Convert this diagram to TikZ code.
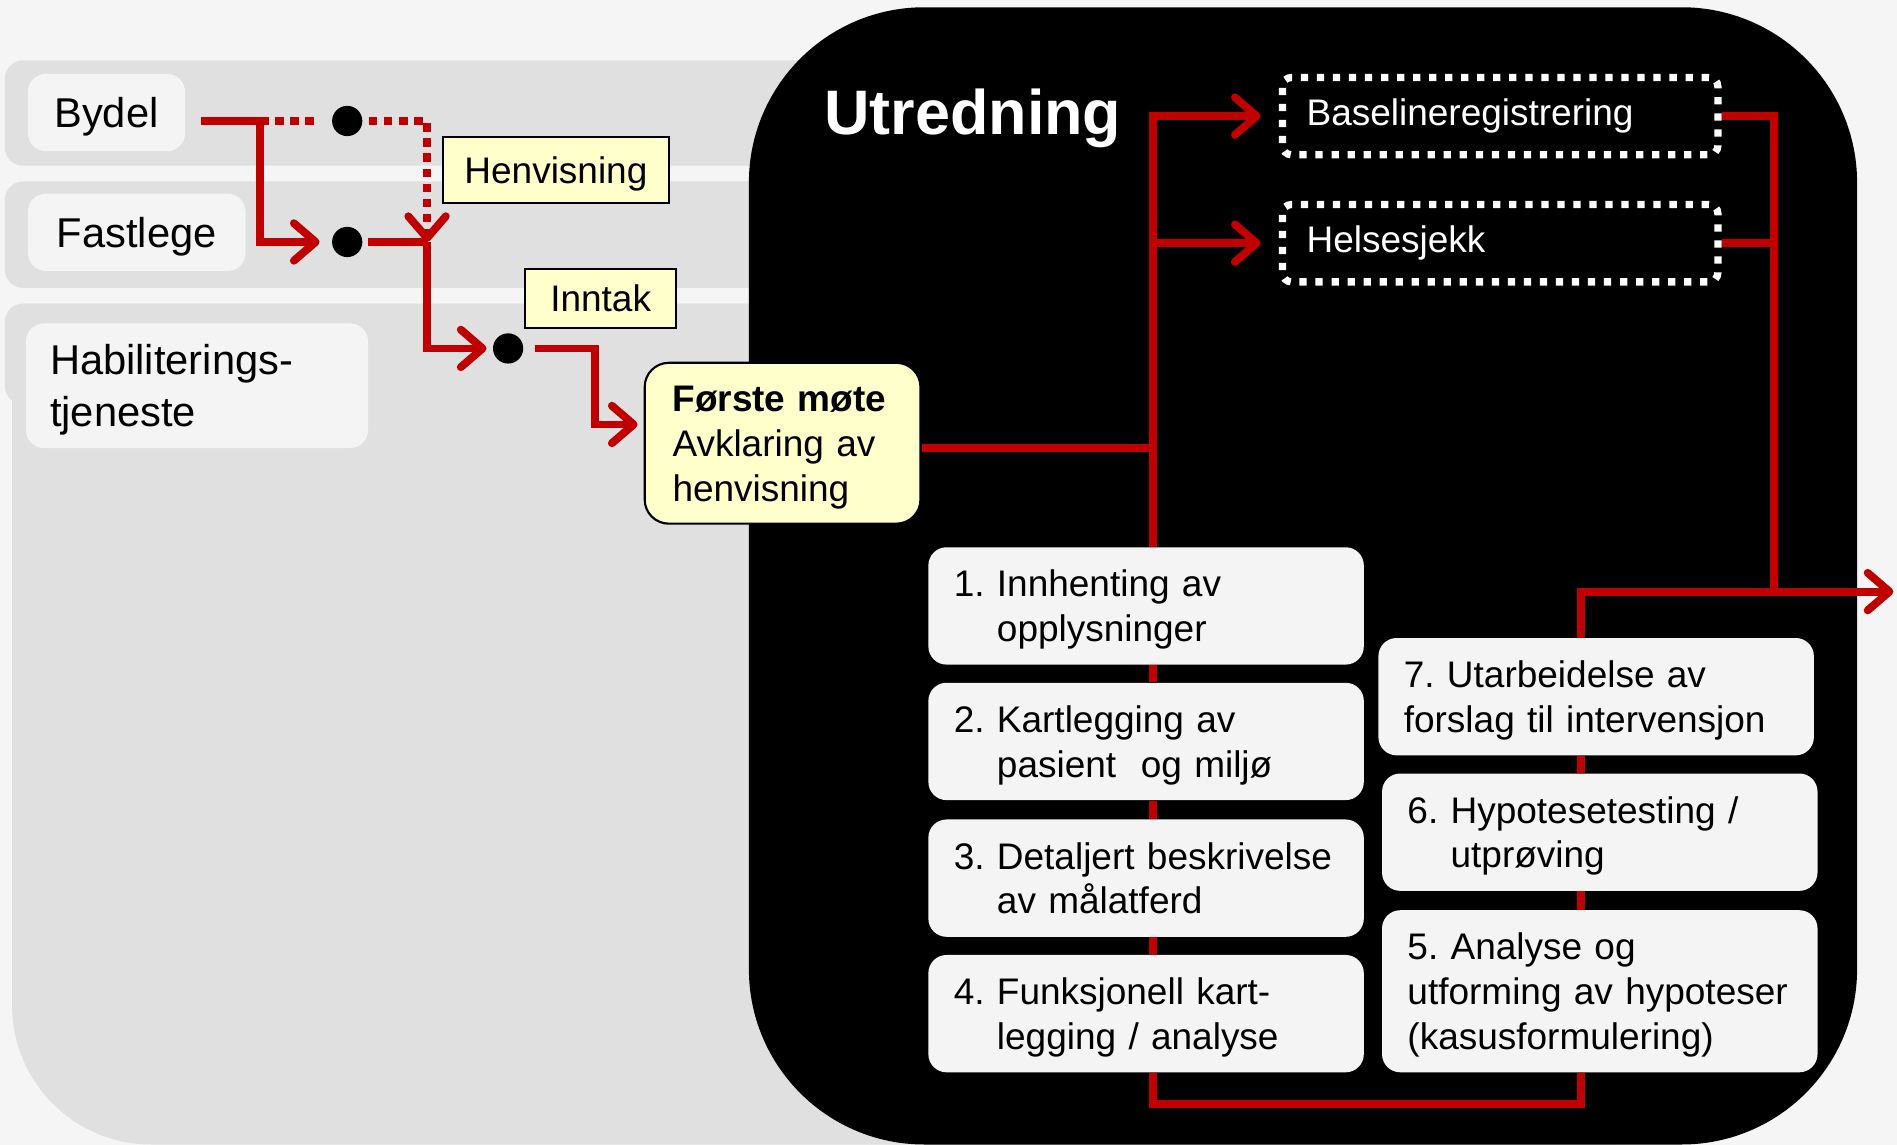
\documentclass[tikz,border=0pt]{standalone}
\usepackage{fontspec}
\setmainfont{Liberation Sans}
\usepackage{xcolor}
\usepackage{tikz}
\usetikzlibrary{arrows.meta,positioning,calc}
\definecolor{pagegray}{RGB}{245,245,245}
\definecolor{bandgray}{RGB}{224,224,224}
\definecolor{cardgray}{RGB}{244,244,244}
\definecolor{notepaper}{RGB}{255,255,204}
\definecolor{routered}{RGB}{192,0,0}
\frenchspacing
\newcommand{\hangitem}[3]{#1\ #2\\\hphantom{#1\ }#3}
\tikzset{
  srcbox/.style={rectangle, rounded corners=0.3cm, fill=cardgray, inner sep=0pt,
                 text height=14pt, text depth=0pt,
                 font=\fontsize{19.6}{24.4}\selectfont},
  blackdot/.style={circle, fill=black, minimum size=0.5cm, inner sep=0pt},
  notebox/.style={rectangle, draw=black, line width=0.9pt, fill=notepaper,
                  inner sep=0pt, text height=12.5pt, text depth=0pt,
                  font=\fontsize{17.4}{21}\selectfont},
  meetbox/.style={rectangle, rounded corners=0.4cm, draw=black, line width=1pt,
                  fill=notepaper, anchor=north west, minimum height=2.66cm,
                  text width=3.64cm, inner xsep=0.46cm, align=left,
                  text height=12.5pt, text depth=42.6pt,
                  font=\fontsize{17.4}{21.3}\selectfont},
  extrabox/.style={rectangle, rounded corners=0.15cm, draw=white, line width=0.12cm,
                   dash pattern=on 0.12cm off 0.145cm, text=white, anchor=north west,
                   minimum height=1.28cm, text width=6.4cm, inner xsep=0.4cm, align=left,
                   font=\fontsize{17.4}{21}\selectfont},
  stepbox/.style={rectangle, rounded corners=0.3cm, fill=cardgray, anchor=north west,
                  minimum height=1.94cm, text width=6.36cm, inner xsep=0.42cm, align=left,
                  text height=12.5pt, text depth=21pt,
                  font=\fontsize{17.4}{21}\selectfont},
  flow/.style={draw=routered, line width=0.13cm},
  arr/.style={flow, -{Straight Barb[length=0.36cm, width=0.62cm, round]}},
  dotflow/.style={flow, dash pattern=on 0.14cm off 0.11cm},
}

\begin{document}
\begin{tikzpicture}[x=0.02cm, y=-0.02cm]
  % Page and lanes
  \fill[pagegray] (0,0) rectangle (1568,946);
  \useasboundingbox (0,0) rectangle (1568,946);
  \fill[bandgray, rounded corners=0.3cm] (4,50) rectangle (1450,137);
  \fill[bandgray, rounded corners=0.3cm] (4,150) rectangle (1450,238);
  \fill[bandgray, rounded corners=0.3cm] (4,251) rectangle (1450,334);
  \fill[bandgray] (1450,320) -- (10,320) -- (10,600) [rounded corners=2.3cm]
        -- (10,946) -- (1450,946) [sharp corners] -- (1450,600) -- cycle;

  % Utredning area
  \fill[black, rounded corners=2.9cm] (619,6) rectangle (1535,946);

  % Referring services
  \node[srcbox, minimum width=2.6cm, minimum height=1.28cm] (bydel) at (88,93) {Bydel};
  \node[srcbox, minimum width=3.6cm, minimum height=1.28cm] (fastlege) at (113,192) {Fastlege};
  \node[srcbox, anchor=north west, minimum height=2.06cm, text width=4.86cm,
        inner xsep=0.4cm, align=left, text depth=24.4pt]
        (habil) at (21,267) {Habiliterings-\\tjeneste};

  % Dots and notes
  \node[blackdot] (bdot) at (287,100) {};
  \node[blackdot] (fdot) at (287,200) {};
  \node[blackdot] (idot) at (420,288) {};
  \node[notebox, minimum width=3.74cm, minimum height=1.1cm] (henv) at (459.5,140.5) {Henvisning};
  \node[notebox, minimum width=2.5cm, minimum height=0.98cm] (inntak) at (496.5,246.5) {Inntak};

  % First meeting
  \node[meetbox] (meet) at (532,299) {\textbf{Første møte}\\Avklaring av\\henvisning};

  % Title and extra registrations
  \node[text=white, font=\fontsize{29.6}{35}\selectfont\bfseries, anchor=base west,
        inner sep=0pt] (utr) at (681,111) {Utredning};
  \node[extrabox] (base) at (1057,61) {Baselineregistrering};
  \node[extrabox] (helse) at (1057,166) {Helsesjekk};

  % Steps
  \node[stepbox] (s1) at (767,452) {\hangitem{1.}{Innhenting av}{opplysninger}};
  \node[stepbox] (s2) at (767,564) {\hangitem{2.}{Kartlegging av}{pasient\ \ og miljø}};
  \node[stepbox] (s3) at (767,677) {\hangitem{3.}{Detaljert beskrivelse}{av målatferd}};
  \node[stepbox] (s4) at (767,789) {\hangitem{4.}{Funksjonell kart-}{legging / analyse}};
  \node[stepbox, minimum height=2.68cm, text depth=42pt] (s5) at (1142,752)
        {5. Analyse og\\utforming av hypoteser\\(kasusformulering)};
  \node[stepbox] (s6) at (1142,639) {\hangitem{6.}{Hypotesetesting /}{utprøving}};
  \node[stepbox] (s7) at (1139,527) {7. Utarbeidelse av\\forslag til intervensjon};

  % Junctions
  \coordinate (split) at (215,100);
  \coordinate (henvjoin) at (353,200);
  \coordinate (hub) at (953,370);
  \coordinate (rcol) at (1307,489);
  \coordinate (rjoin) at (1466,489);
  \coordinate (exit) at (1565,489);

  % Referral routes
  \draw[flow] ([xshift=0.26cm, yshift=-0.14cm]bydel.east) -- (split);
  \draw[arr, shorten >=0.2cm] (split) |- (fdot);
  \draw[dotflow, shorten >=0.2cm] (split) -- (bdot);
  \draw[dotflow, -{Straight Barb[length=0.36cm, width=0.62cm, round]}, shorten <=0.1cm]
        (bdot) -| (henvjoin);
  \draw[flow, shorten <=0.08cm] (fdot) -- (henvjoin);
  \draw[arr, shorten >=0.1cm] (henvjoin) |- (idot);
  \draw[arr, shorten <=0.18cm, shorten >=0.1cm] (idot.east) -- ++(59,0)
        |- ([yshift=0.31cm]meet.west);

  % Into Utredning
  \draw[flow] (hub -| meet.east) -- (hub);
  \draw[arr, shorten >=0.3cm] (hub) |- (base.west);
  \draw[arr, shorten >=0.3cm] (hub) |- (helse.west);
  \draw[flow] (hub) -- (hub |- s1.north);

  % Step chain
  \foreach \a/\b in {s1/s2, s2/s3, s3/s4}
    \draw[flow] (hub |- \a.south) -- (hub |- \b.north);
  \draw[flow] (hub |- s4.south) -- ++(0,26) -| (rcol |- s5.south);
  \foreach \a/\b in {s5/s6, s6/s7}
    \draw[flow] (rcol |- \a.north) -- (rcol |- \b.south);

  % Out
  \draw[flow] (base.east) -| (rjoin);
  \draw[flow] (helse.east) -- (helse.east -| rjoin);
  \draw[arr] (rcol |- s7.north) -- (rcol) -- (exit);
\end{tikzpicture}
\end{document}
